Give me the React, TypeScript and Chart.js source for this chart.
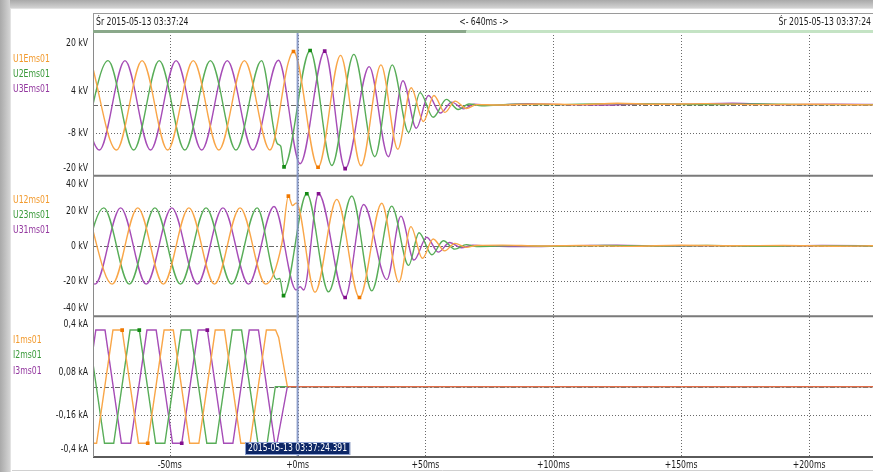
import React, { useEffect, useRef } from 'react';
import { Chart, registerables } from 'chart.js';
Chart.register(...registerables);

const FONT = "'DejaVu Sans Condensed', 'DejaVu Sans', sans-serif";
const SX = 0.78;

const X_MIN = -80;
const X_MAX = 225;
const X_TICKS = [-50, 0, 50, 100, 150, 200];

const PH_TICKS = [20, 4, -8, -20];
const PH_GRID = [4, -8];
const LL_TICKS = [40, 20, 0, -20, -40];
const LL_GRID = [20, -20];
const I_TICKS = [0.4, 0.08, -0.16, -0.4];
const I_GRID = [0.08, -0.16];

const HEADER_LEFT = 'Śr 2015-05-13 03:37:24';
const HEADER_MID = '<- 640ms ->';
const HEADER_RIGHT = 'Śr 2015-05-13 03:37:24';
const CURSOR_T = 0;
const CURSOR_LABEL = '2015-05-13 03:37:24.391';

const PH_NAMES = ['U1Ems01', 'U2Ems01', 'U3Ems01'];
const LL_NAMES = ['U12ms01', 'U23ms01', 'U31ms01'];
const I_NAMES = ['I1ms01', 'I2ms01', 'I3ms01'];

// phase-earth voltages [ms, kV]
const U1E: [number, number][] = [[-80.8, 12.7], [-70.8, -12.7], [-60.8, 12.7], [-50.8, -12.7], [-40.8, 12.7], [-30.8, -12.7], [-20.8, 12.7], [-10.8, -12.7], [-3.6, 12.3], [-1.6, 15.3], [8.0, -17.6], [16.8, 14.2], [24.8, -17.2], [32.6, 11.5], [39.2, -12.5], [44.4, 5.0], [49.2, -4.6], [53.3, 2.8], [57.6, -2.0], [61.6, 1.2], [66.0, -0.9], [70.0, 0.2], [78, 0.1], [95, 0.4], [110, 0.2], [125, 0.6], [140, 0.3], [160, 0.5], [180, 0.2], [200, 0.3], [228, 0.1]];
const U2E: [number, number][] = [[-84.1, -12.7], [-74.1, 12.7], [-64.1, -12.7], [-54.1, 12.7], [-44.1, -12.7], [-34.1, 12.7], [-24.1, -12.7], [-14.1, 12.7], [-8.0, -10.8], [-6.6, -11.6], [-5.3, -17.5], [4.9, 15.6], [13.4, -17.1], [22.0, 14.5], [30.2, -14.6], [37.0, 11.5], [43.4, -7.7], [47.9, 3.6], [53.0, -3.4], [58.2, 1.7], [62.8, -1.2], [67.0, 0.4], [72, -0.1], [85, 0.3], [100, 0.2], [120, 0.5], [140, 0.4], [160, 0.2], [180, 0.4], [200, 0.2], [228, 0.2]];
const U3E: [number, number][] = [[-87.5, 12.7], [-77.5, -12.7], [-67.5, 12.7], [-57.5, -12.7], [-47.5, 12.7], [-37.5, -12.7], [-27.5, 12.7], [-17.5, -12.7], [-7.5, 12.8], [1.0, -16.6], [10.6, 15.4], [18.6, -18.0], [28.0, 11.0], [35.5, -14.6], [41.2, 7.0], [46.4, -6.5], [51.2, 2.8], [55.8, -2.2], [60.3, 0.9], [64.9, -1.0], [69.0, 0.3], [75, 0.0], [90, 0.5], [105, 0.2], [120, 0.1], [135, 0.4], [150, 0.3], [170, 0.6], [190, 0.2], [210, 0.3], [228, 0.2]];

// line voltages [ms, kV]
const U12: [number, number][] = [[-82.5, 21.7], [-72.5, -21.7], [-62.5, 21.7], [-52.5, -21.7], [-42.5, 21.7], [-32.5, -21.7], [-22.5, 21.7], [-12.5, -21.7], [-6.2, 1.0], [-3.6, 28.4], [-2.0, 23.0], [-0.5, 24.5], [6.8, -26.3], [15.3, 26.5], [24.2, -29.3], [32.9, 24.3], [39.6, -20.5], [44.3, 11.0], [48.8, -7.0], [53.0, 4.0], [57.5, -2.8], [61.5, 1.5], [66.0, -0.8], [70.0, 0.3], [80, 0.5], [95, 0.0], [110, 0.3], [130, -0.2], [150, 0.4], [170, 0.1], [190, 0.3], [210, -0.1], [228, 0.2]];
const U23: [number, number][] = [[-85.8, -21.7], [-75.8, 21.7], [-65.8, -21.7], [-55.8, 21.7], [-45.8, -21.7], [-35.8, 21.7], [-25.8, -21.7], [-15.8, 21.7], [-8.2, -19.0], [-7.0, -18.5], [-5.5, -28.2], [3.6, 29.7], [12.1, -26.1], [21.2, 28.4], [29.0, -25.5], [36.8, 22.7], [43.4, -11.0], [47.5, 7.5], [52.5, -5.0], [57.0, 3.0], [61.5, -1.8], [66.0, 0.8], [70.0, -0.3], [85, 0.2], [100, -0.2], [120, 0.3], [140, 0.0], [160, 0.3], [180, -0.2], [200, 0.2], [228, 0.0]];
const U31: [number, number][] = [[-89.2, 21.7], [-79.2, -21.7], [-69.2, 21.7], [-59.2, -21.7], [-49.2, 21.7], [-39.2, -21.7], [-29.2, 21.7], [-19.2, -21.7], [-9.2, 22.5], [-0.6, -25.0], [1.0, -23.2], [2.4, -25.0], [8.2, 29.7], [18.6, -29.3], [25.8, 23.6], [34.9, -19.1], [40.4, 17.0], [45.5, -8.0], [50.5, 5.0], [55.0, -3.5], [59.5, 2.0], [64.0, -1.0], [68.5, 0.4], [75, 0.0], [90, -0.3], [110, 0.2], [125, 0.5], [145, -0.1], [165, 0.2], [185, 0.0], [205, 0.3], [228, 0.1]];

// currents [ms, kA]
const I1: [number, number][] = [[-82.2, -0.322], [-78.6, -0.322], [-72.2, 0.322], [-68.6, 0.322], [-62.2, -0.322], [-58.6, -0.322], [-52.2, 0.322], [-48.6, 0.322], [-42.2, -0.322], [-38.6, -0.322], [-32.2, 0.322], [-28.6, 0.322], [-22.2, -0.322], [-18.6, -0.322], [-12.2, 0.322], [-8.6, 0.322], [-7.4, 0.28], [-4.0, 0], [228, 0]];
const I2: [number, number][] = [[-85.5, 0.322], [-81.9, 0.322], [-75.5, -0.322], [-71.9, -0.322], [-65.5, 0.322], [-61.9, 0.322], [-55.5, -0.322], [-51.9, -0.322], [-45.5, 0.322], [-41.9, 0.322], [-35.5, -0.322], [-31.9, -0.322], [-25.5, 0.322], [-21.9, 0.322], [-15.5, -0.322], [-11.9, -0.322], [-8.7, 0], [228, 0]];
const I3: [number, number][] = [[-88.9, -0.322], [-85.3, -0.322], [-78.9, 0.322], [-75.3, 0.322], [-68.9, -0.322], [-65.3, -0.322], [-58.9, 0.322], [-55.3, 0.322], [-48.9, -0.322], [-45.3, -0.322], [-38.9, 0.322], [-35.3, 0.322], [-28.9, -0.322], [-25.3, -0.322], [-18.9, 0.322], [-15.3, 0.322], [-8.9, -0.322], [-8.1, -0.322], [-4.0, 0], [228, 0]];

// min / max markers (times)
const U1E_MARKS = [-1.6, 8.0];
const U2E_MARKS = [-5.3, 4.9];
const U3E_MARKS = [10.6, 18.6];
const U12_MARKS = [-3.6, 24.2];
const U23_MARKS = [-5.5, 3.6];
const U31_MARKS = [8.2, 18.6];
const I1_MARKS = [-68.6, -58.6];
const I2_MARKS = [-61.9];
const I3_MARKS = [-45.3, -35.3];

const ORANGE = '#f9a648';
const GREEN = '#58ad58';
const PURPLE = '#a64db7';
const ORANGE_T = '#f29a2e';
const GREEN_T = '#3a9a3a';
const PURPLE_T = '#93389f';
const ORANGE_M = '#f07800';
const GREEN_M = '#138a13';
const PURPLE_M = '#84108f';
const ZERO_RED = '#e26b45';

const PANELS = [
  { id: 'yPH', ticks: PH_TICKS, grid: PH_GRID, unit: 'kV', names: PH_NAMES },
  { id: 'yLL', ticks: LL_TICKS, grid: LL_GRID, unit: 'kV', names: LL_NAMES },
  { id: 'yI', ticks: I_TICKS, grid: I_GRID, unit: 'kA', names: I_NAMES },
];
const NAME_COLORS = [ORANGE_T, GREEN_T, PURPLE_T];

function fmt(v: number, unit: string) {
  return String(v).replace('.', ',') + ' ' + unit;
}

function fmtMs(v: number) {
  return (v >= 0 ? '+' : '') + v + 'ms';
}

function line(ctx: CanvasRenderingContext2D, x1: number, y1: number, x2: number, y2: number) {
  ctx.beginPath();
  ctx.moveTo(x1, y1);
  ctx.lineTo(x2, y2);
  ctx.stroke();
}

function text(ctx: CanvasRenderingContext2D, s: string, x: number, y: number, align: CanvasTextAlign) {
  ctx.save();
  ctx.translate(x, y);
  ctx.scale(SX, 1);
  ctx.textAlign = align;
  ctx.textBaseline = 'middle';
  ctx.fillText(s, 0, 0);
  ctx.restore();
}

const overlay = {
  id: 'overlay',
  beforeDatasetsDraw(chart: any) {
    const { ctx, chartArea: ca, scales } = chart;
    ctx.save();
    ctx.strokeStyle = '#6a6a6a';
    ctx.lineWidth = 1;
    for (const p of PANELS) {
      const s = scales[p.id];
      ctx.setLineDash([1, 2]);
      for (const v of p.grid) {
        const y = Math.round(s.getPixelForValue(v)) + 0.5;
        line(ctx, ca.left, y, ca.right, y);
      }
      ctx.setLineDash([5, 2, 2, 2]);
      const y0 = Math.round(s.getPixelForValue(0)) + 0.5;
      line(ctx, ca.left, y0, ca.right, y0);
    }
    ctx.setLineDash([1, 2]);
    for (const t of X_TICKS) {
      const px = Math.round(scales.x.getPixelForValue(t)) + 0.5;
      line(ctx, px, ca.top, px, ca.bottom);
    }
    ctx.restore();
  },
  afterDatasetsDraw(chart: any) {
    const { ctx, chartArea: ca, scales } = chart;
    const W = chart.width;
    ctx.save();
    ctx.setLineDash([]);
    // panel separators
    ctx.strokeStyle = '#7a7a7a';
    ctx.lineWidth = 2;
    line(ctx, ca.left, scales.yPH.bottom, W, scales.yPH.bottom);
    line(ctx, ca.left, scales.yLL.bottom, W, scales.yLL.bottom);
    ctx.strokeStyle = '#5a5a5a';
    line(ctx, ca.left, ca.bottom, W, ca.bottom);
    ctx.lineWidth = 1;
    ctx.strokeStyle = '#8a8a8a';
    line(ctx, ca.left + 0.5, ca.top - 2, ca.left + 0.5, ca.bottom);
    ctx.strokeStyle = '#d0d0d0';
    line(ctx, 12, chart.height - 1.5, W, chart.height - 1.5);

    // header
    ctx.fillStyle = '#ffffff';
    ctx.fillRect(ca.left, 13, W - ca.left, 17);
    ctx.strokeStyle = '#9a9a9a';
    ctx.strokeRect(ca.left + 0.5, 13.5, W, 17);
    const xMid = scales.x.getPixelForValue(66);
    ctx.fillStyle = '#8aa88a';
    ctx.fillRect(ca.left, 30, xMid - ca.left, 3);
    ctx.fillStyle = '#c4e3c4';
    ctx.fillRect(xMid, 30, W - xMid, 3);
    ctx.font = `11px ${FONT}`;
    ctx.fillStyle = '#1a1a1a';
    text(ctx, HEADER_LEFT, ca.left + 3, 22, 'left');
    text(ctx, HEADER_MID, (ca.left + W) / 2 + 1, 22, 'center');
    text(ctx, HEADER_RIGHT, W - 2, 22, 'right');

    // x tick labels
    for (const t of X_TICKS) {
      text(ctx, fmtMs(t), scales.x.getPixelForValue(t), ca.bottom + 8, 'center');
    }

    // cursor
    const cx = scales.x.getPixelForValue(CURSOR_T);
    ctx.strokeStyle = 'rgba(128,146,196,0.9)';
    ctx.lineWidth = 2;
    line(ctx, cx, 33, cx, ca.bottom - 1);
    ctx.font = `11px ${FONT}`;
    const tw = ctx.measureText(CURSOR_LABEL).width * SX + 6;
    ctx.fillStyle = '#0d2767';
    ctx.fillRect(cx - tw / 2, ca.bottom - 15, tw, 13);
    ctx.strokeStyle = '#8ea2d2';
    ctx.lineWidth = 1;
    ctx.strokeRect(cx - tw / 2 + 0.5, ca.bottom - 14.5, tw - 1, 12);
    ctx.fillStyle = '#ffffff';
    text(ctx, CURSOR_LABEL, cx, ca.bottom - 8.5, 'center');

    // y labels and series names
    ctx.font = `11px ${FONT}`;
    for (const p of PANELS) {
      const s = scales[p.id];
      ctx.fillStyle = '#1a1a1a';
      for (const v of p.ticks) {
        let y = s.getPixelForValue(v);
        y = Math.min(Math.max(y, s.top + 8), s.bottom - 8);
        text(ctx, fmt(v, p.unit), ca.left - 5, y, 'right');
      }
      p.names.forEach((n, i) => {
        ctx.fillStyle = NAME_COLORS[i];
        text(ctx, n, 13, s.top + 24 + i * 15.3, 'left');
      });
    }
    ctx.restore();
  },
};

function mk(label: string, pts: [number, number][], color: string, marker: string, marks: number[], yAxisID: string, curved: boolean) {
  return {
    label,
    data: pts.map(([x, y]) => ({ x, y })),
    yAxisID,
    xAxisID: 'x',
    borderColor: color,
    borderWidth: 1.4,
    cubicInterpolationMode: curved ? 'monotone' : 'default',
    tension: 0,
    pointStyle: 'rect',
    pointRadius: (c: any) => (c.raw && marks.includes(c.raw.x) ? 2.6 : 0),
    pointBackgroundColor: marker,
    pointBorderColor: marker,
    pointBorderWidth: 0,
    fill: false,
  } as any;
}

export default function App() {
  const ref = useRef<HTMLCanvasElement>(null);
  useEffect(() => {
    const cv = ref.current!;
    const i1 = mk(I_NAMES[0], I1, ORANGE, ORANGE_M, I1_MARKS, 'yI', false);
    i1.segment = {
      borderColor: (c: any) => (c.p0.parsed.y === 0 && c.p1.parsed.y === 0 ? ZERO_RED : undefined),
    };
    const chart = new Chart(cv, {
      type: 'line',
      data: {
        datasets: [
          mk(PH_NAMES[0], U1E, ORANGE, ORANGE_M, U1E_MARKS, 'yPH', true),
          mk(PH_NAMES[1], U2E, GREEN, GREEN_M, U2E_MARKS, 'yPH', true),
          mk(PH_NAMES[2], U3E, PURPLE, PURPLE_M, U3E_MARKS, 'yPH', true),
          mk(LL_NAMES[0], U12, ORANGE, ORANGE_M, U12_MARKS, 'yLL', true),
          mk(LL_NAMES[1], U23, GREEN, GREEN_M, U23_MARKS, 'yLL', true),
          mk(LL_NAMES[2], U31, PURPLE, PURPLE_M, U31_MARKS, 'yLL', true),
          i1,
          mk(I_NAMES[1], I2, GREEN, GREEN_M, I2_MARKS, 'yI', false),
          mk(I_NAMES[2], I3, PURPLE, PURPLE_M, I3_MARKS, 'yI', false),
        ],
      },
      options: {
        animation: false,
        responsive: false,
        events: [],
        layout: { padding: { top: 35, left: 0, right: 0, bottom: 0 } },
        plugins: { legend: { display: false }, tooltip: { enabled: false } },
        scales: {
          x: {
            type: 'linear',
            position: 'bottom',
            min: X_MIN,
            max: X_MAX,
            grid: { display: false, drawTicks: false },
            border: { display: false },
            afterBuildTicks: (s: any) => { s.ticks = X_TICKS.map((v) => ({ value: v })); },
            afterFit: (s: any) => { s.height = 15; },
            ticks: { display: false },
          },
          yPH: {
            type: 'linear', position: 'left', stack: 'v', stackWeight: 1, weight: 3,
            min: -20, max: 20,
            ticks: { display: false }, grid: { display: false }, border: { display: false },
            afterFit: (s: any) => { s.width = 93; },
          },
          yLL: {
            type: 'linear', position: 'left', stack: 'v', stackWeight: 1, weight: 2,
            min: -40, max: 40,
            ticks: { display: false }, grid: { display: false }, border: { display: false },
            afterFit: (s: any) => { s.width = 93; },
          },
          yI: {
            type: 'linear', position: 'left', stack: 'v', stackWeight: 1, weight: 1,
            min: -0.4, max: 0.4,
            ticks: { display: false }, grid: { display: false }, border: { display: false },
            afterFit: (s: any) => { s.width = 93; },
          },
        } as any,
      },
      plugins: [overlay],
    } as any);
    return () => chart.destroy();
  }, []);

  return (
    <div style={{ position: 'absolute', left: 0, top: 0, width: 873, height: 472, background: '#ffffff', overflow: 'hidden' }}>
      <div style={{ position: 'absolute', left: 0, top: 0, width: 873, height: 8, background: 'linear-gradient(#a9a9a9, #d2d2d2)' }} />
      <div style={{ position: 'absolute', left: 0, top: 0, width: 10, height: 472, background: 'linear-gradient(to right, #a9a9a9, #d4d4d4)' }} />
      <div style={{ position: 'absolute', left: 10, top: 8, width: 863, height: 464, borderLeft: '1px solid #e2e2e2', borderTop: '1px solid #e2e2e2', boxSizing: 'border-box' }} />
      <canvas ref={ref} width={873} height={472} style={{ position: 'absolute', left: 0, top: 0, width: 873, height: 472 }} />
    </div>
  );
}
